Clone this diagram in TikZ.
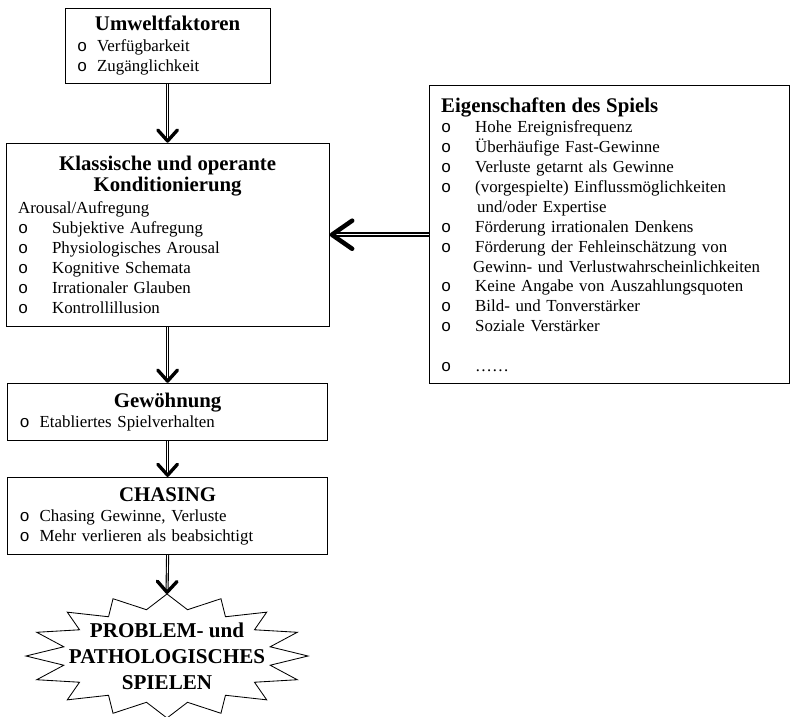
\documentclass[tikz,border=0pt]{standalone}
\usepackage{fontspec}
\setmainfont{Liberation Serif}
\newfontfamily\bulletfont{Liberation Mono}
\usetikzlibrary{positioning, decorations.markings}

\newcommand{\pkt}[2][0.5cm]{\makebox[\linewidth][l]{\makebox[#1][l]{\bulletfont o}#2}}
\newcommand{\zeile}[1]{\makebox[\linewidth][l]{#1}}
\newcommand{\titel}[1]{{\fontsize{14.8}{17}\selectfont\bfseries #1}}

\begin{document}
\begin{tikzpicture}[box/.style={draw, line width=0.8pt, inner xsep=0.3cm, inner ysep=0pt},
                    schaft/.style={draw, double, double distance=0.6pt, line width=0.8pt, shorten >=2pt},
                    schaft dick/.style={draw, double, double distance=0.8pt, line width=1.4pt, shorten >=2.5pt},
                    kopf/.style={decorate, decoration={markings, mark=at position 1 with
                        {\draw[line width=2.4pt, line cap=round, line join=round]
                            (-9pt,7pt) -- (-1.2pt,0pt) -- (-9pt,-7pt);}}},
                    kopf dick/.style={decorate, decoration={markings, mark=at position 1 with
                        {\draw[line width=3.2pt, line cap=round, line join=round]
                            (-16pt,10pt) -- (-1.6pt,0pt) -- (-16pt,-10pt);}}},
                    stern/.style={line width=0.6pt, line join=miter},
                    every node/.style={font=\fontsize{12}{14.2}\selectfont, align=center}]

    \useasboundingbox (0,0) rectangle (19.8,-17.925);

    % Hauptkette
    \node[box, text width=4.525cm, minimum height=1.875cm] (umwelt) at (4.19,-1.14)
        {\titel{Umweltfaktoren}\\[1pt]
         \pkt{Verfügbarkeit}\\
         \pkt{Zugänglichkeit}};
    \node[box, text width=7.475cm, minimum height=4.575cm, below=1.475cm of umwelt] (klass)
        {\titel{Klassische und operante\\[1pt] Konditionierung}\\[1pt]
         \zeile{Arousal/Aufregung}\\
         \pkt[0.85cm]{Subjektive Aufregung}\\
         \pkt[0.85cm]{Physiologisches Arousal}\\
         \pkt[0.85cm]{Kognitive Schemata}\\
         \pkt[0.85cm]{Irrationaler Glauben}\\
         \pkt[0.85cm]{Kontrollillusion}};
    \node[box, text width=7.4cm, minimum height=1.425cm, below=1.4cm of klass] (gewoehnung)
        {\titel{Gewöhnung}\\
         \pkt{Etabliertes Spielverhalten}};
    \node[box, text width=7.4cm, minimum height=1.925cm, below=0.9cm of gewoehnung] (chasing)
        {\titel{CHASING}\\
         \pkt{Chasing Gewinne, Verluste}\\
         \pkt{Mehr verlieren als beabsichtigt}};

    % Stern mit Text
    \node[font=\fontsize{15}{18.5}\selectfont\bfseries] (problem) at (4.175,-16.4)
        {PROBLEM- und\\ PATHOLOGISCHES\\ SPIELEN};
    \draw[stern, shift={(problem.center)}] (90:3.525cm and 1.55cm)
        \foreach \w in {0,...,15} {
            -- ({101.25+22.5*\w}:2.63cm and 1.18cm) -- ({112.5+22.5*\w}:3.525cm and 1.55cm)
        } -- cycle;
    \coordinate[above=1.55cm of problem.center] (sternspitze);

    % Seitenbox
    \node[box, text width=8.4cm, minimum height=7.45cm, right=2.475cm of klass] (spiel)
        {\zeile{\titel{Eigenschaften des Spiels}}\\
         \pkt[0.85cm]{Hohe Ereignisfrequenz}\\
         \pkt[0.85cm]{Überhäufige Fast-Gewinne}\\
         \pkt[0.85cm]{Verluste getarnt als Gewinne}\\
         \pkt[0.85cm]{(vorgespielte) Einflussmöglichkeiten}\\
         \zeile{\hspace{0.9cm}und/oder Expertise}\\
         \pkt[0.85cm]{Förderung irrationalen Denkens}\\
         \pkt[0.85cm]{Förderung der Fehleinschätzung von}\\
         \zeile{\hspace{0.8cm}Gewinn- und Verlustwahrscheinlichkeiten}\\
         \pkt[0.85cm]{Keine Angabe von Auszahlungsquoten}\\
         \pkt[0.85cm]{Bild- und Tonverstärker}\\
         \pkt[0.85cm]{Soziale Verstärker}\\[14pt]
         \pkt[0.85cm]{……}};

    % Pfeile
    \coordinate (klassoben) at (umwelt.south |- klass.north);
    \foreach \von/\nach in {umwelt.south/klassoben, klass.south/gewoehnung.north,
                            gewoehnung.south/chasing.north, chasing.south/sternspitze} {
        \path[schaft] (\von) -- (\nach);
        \path[kopf] (\von) -- (\nach);
    }
    \path[schaft dick] (spiel.west) -- (klass.east);
    \path[kopf dick] (spiel.west) -- (klass.east);

\end{tikzpicture}
\end{document}
